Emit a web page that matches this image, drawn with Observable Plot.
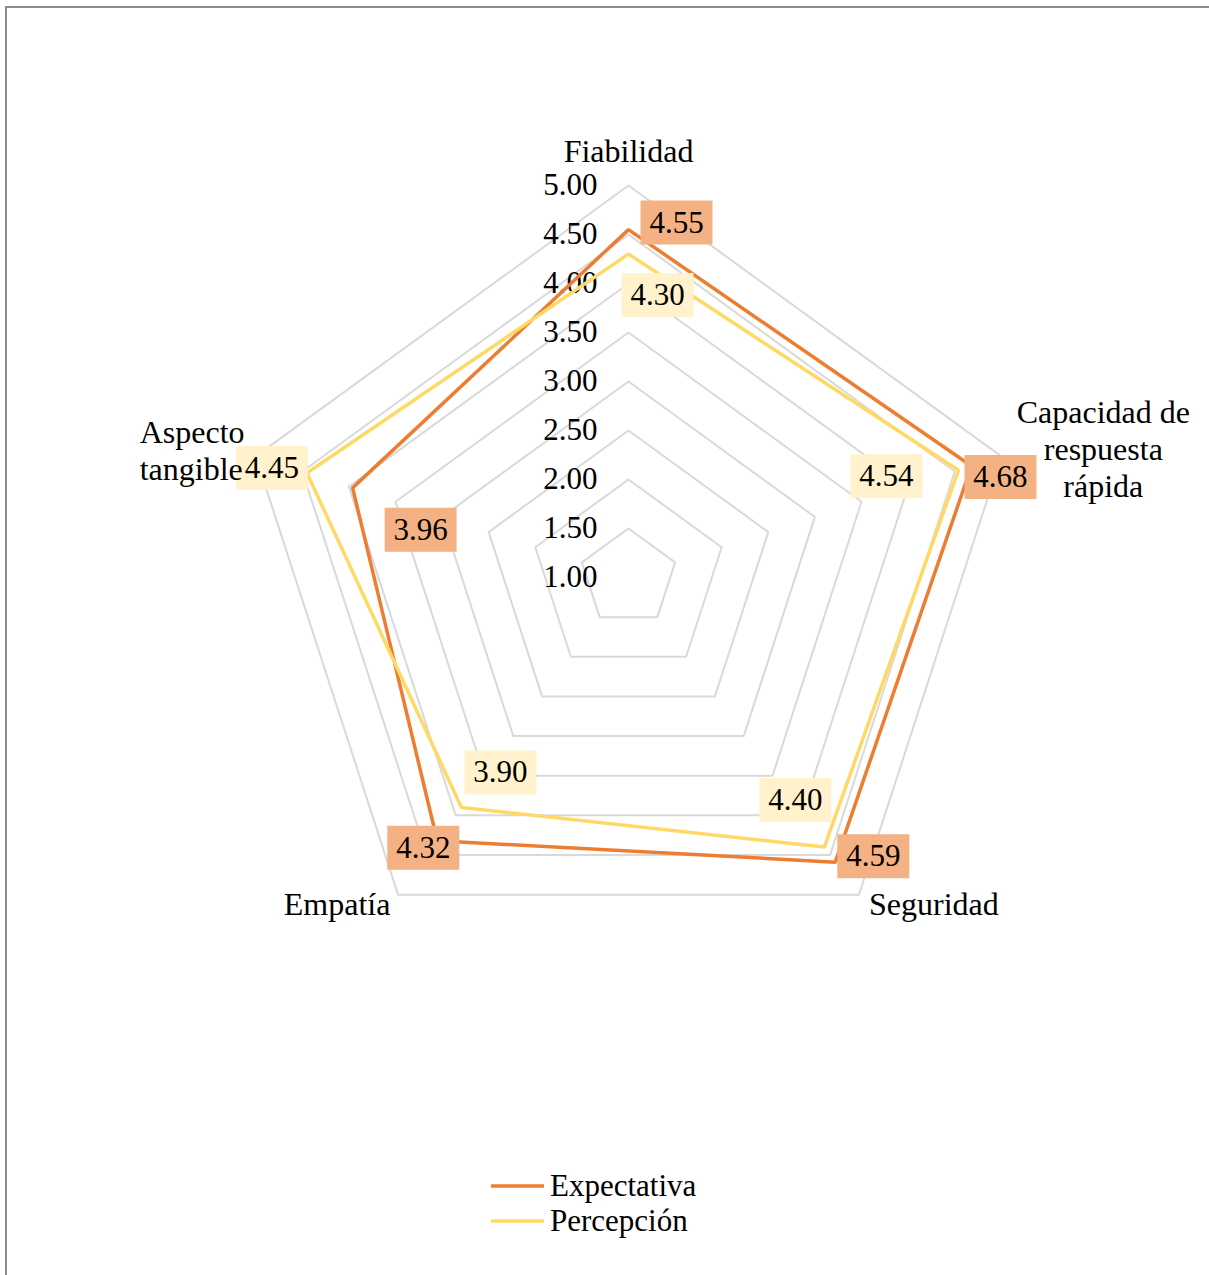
<!DOCTYPE html>
<html lang="es">
<head>
<meta charset="utf-8">
<script src="https://cdn.jsdelivr.net/npm/d3@7"></script>
<script src="https://cdn.jsdelivr.net/npm/@observablehq/plot@0.6"></script>
<style>
  html, body { margin: 0; padding: 0; background: #fff; overflow: hidden; }
  body { width: 1209px; height: 1275px; position: relative; font-family: "Liberation Serif", "Times New Roman", serif; }
  #marco { position: absolute; left: 5px; top: 6px; width: 1300px; height: 1400px; border: 2px solid #8c8c8c; box-sizing: border-box; pointer-events: none; }
  #grafico { position: absolute; left: 0; top: 0; }
  #leyenda { position: absolute; left: 491px; top: 1168px; font-size: 31px; color: #000; }
  .item { display: flex; align-items: center; height: 35px; }
  .item svg { margin-right: 6px; }
</style>
</head>
<body>
<div id="grafico"></div>
<div id="leyenda"></div>
<div id="marco"></div>
<script>
// Dimensiones de servicio evaluadas (en el sentido de las agujas del reloj desde arriba)
const categorias = ["Fiabilidad", "Capacidad de\nrespuesta\nrápida", "Seguridad", "Empatía", "Aspecto\ntangible"];
// Puntuaciones medias por dimensión
const expectativa = [4.55, 4.68, 4.59, 4.32, 3.96];
const percepcion = [4.30, 4.54, 4.40, 3.90, 4.45];
const series = ["Expectativa", "Percepción"];
const colores = ["#ED7D31", "#FFD966"];
const coloresEtiqueta = ["#F4B183", "#FFF2CC"];
// Niveles de la escala radial
const niveles = [1.00, 1.50, 2.00, 2.50, 3.00, 3.50, 4.00, 4.50, 5.00];

// Desplazamientos (px) de las etiquetas de valor respecto a su vértice
const desplazamientos = {
  "Expectativa": [[48, -7], [29, 11], [38, -6], [-14, 7], [68, 42]],
  "Percepción": [[29, 41], [-72, 6], [-29, -47], [39, -35], [-35, -5]]
};
// Colocación de los nombres de los ejes respecto al vértice exterior
const posEjes = [
  {dx: 0, dy: -35, anchor: "middle"},
  {dx: 102, dy: -8, anchor: "middle"},
  {dx: 75, dy: 9, anchor: "middle"},
  {dx: -61, dy: 9, anchor: "middle"},
  {dx: -116, dy: -7, anchor: "start"}
];

const MIN = 1, MAX = 5;
const n = categorias.length;
const ang = i => (i * 2 * Math.PI) / n;
const px = (v, i) => (v - MIN) * Math.sin(ang(i));
const py = (v, i) => (v - MIN) * Math.cos(ang(i));

const filas = [
  ...expectativa.map((valor, i) => ({serie: series[0], i, valor})),
  ...percepcion.map((valor, i) => ({serie: series[1], i, valor}))
];
const malla = niveles.filter(v => v > MIN).flatMap(v => categorias.map((c, i) => ({nivel: v, i})));

// Caja rectangular de fondo para las etiquetas de datos
const caja = {draw(ctx) { ctx.rect(-36, -22, 72, 44); }};

const cx = 628, cy = 577, R = 392;
const span = MAX - MIN;

const marcas = [
  Plot.line(malla, {
    x: d => px(d.nivel, d.i), y: d => py(d.nivel, d.i), z: "nivel",
    curve: "linear-closed", stroke: "#d9d9d9", strokeWidth: 2
  }),
  Plot.text(niveles, {
    x: () => 0, y: d => d - MIN, text: d => d.toFixed(2),
    textAnchor: "end", dx: -31, fontSize: 31
  }),
  Plot.line(filas, {
    x: d => px(d.valor, d.i), y: d => py(d.valor, d.i), z: "serie", stroke: "serie",
    curve: "linear-closed", strokeWidth: 3.5, strokeLinejoin: "miter"
  }),
  ...filas.flatMap(d => {
    const k = series.indexOf(d.serie);
    const [dx, dy] = desplazamientos[d.serie][d.i];
    return [
      Plot.dot([d], {x: r => px(r.valor, r.i), y: r => py(r.valor, r.i), dx, dy, r: 1, symbol: caja, fill: coloresEtiqueta[k], stroke: "none"}),
      Plot.text([d], {x: r => px(r.valor, r.i), y: r => py(r.valor, r.i), dx, dy, text: r => r.valor.toFixed(2), fontSize: 31, fill: "#000"})
    ];
  }),
  ...categorias.map((c, i) => Plot.text([c], {
    x: () => px(MAX, i), y: () => py(MAX, i), text: d => d,
    dx: posEjes[i].dx, dy: posEjes[i].dy, textAnchor: posEjes[i].anchor,
    fontSize: 32, lineHeight: 1.15, fill: "#000"
  }))
];

const chart = Plot.plot({
  width: 1209,
  height: 1160,
  margin: 0,
  x: {domain: [-span, span], range: [cx - R, cx + R], axis: null},
  y: {domain: [-span, span], range: [cy + R, cy - R], axis: null},
  color: {domain: series, range: colores},
  style: {fontFamily: "'Liberation Serif', 'Times New Roman', serif", background: "transparent", color: "#000"},
  marks: marcas
});
document.getElementById("grafico").appendChild(chart);

// Leyenda
const leyenda = d3.select("#leyenda");
series.forEach((s, k) => {
  const item = leyenda.append("div").attr("class", "item");
  const sw = item.append("svg").attr("width", 53).attr("height", 10);
  sw.append("line").attr("x1", 0).attr("x2", 53).attr("y1", 5).attr("y2", 5)
    .attr("stroke", colores[k]).attr("stroke-width", 3.5);
  item.append("span").text(s);
});
</script>
</body>
</html>
